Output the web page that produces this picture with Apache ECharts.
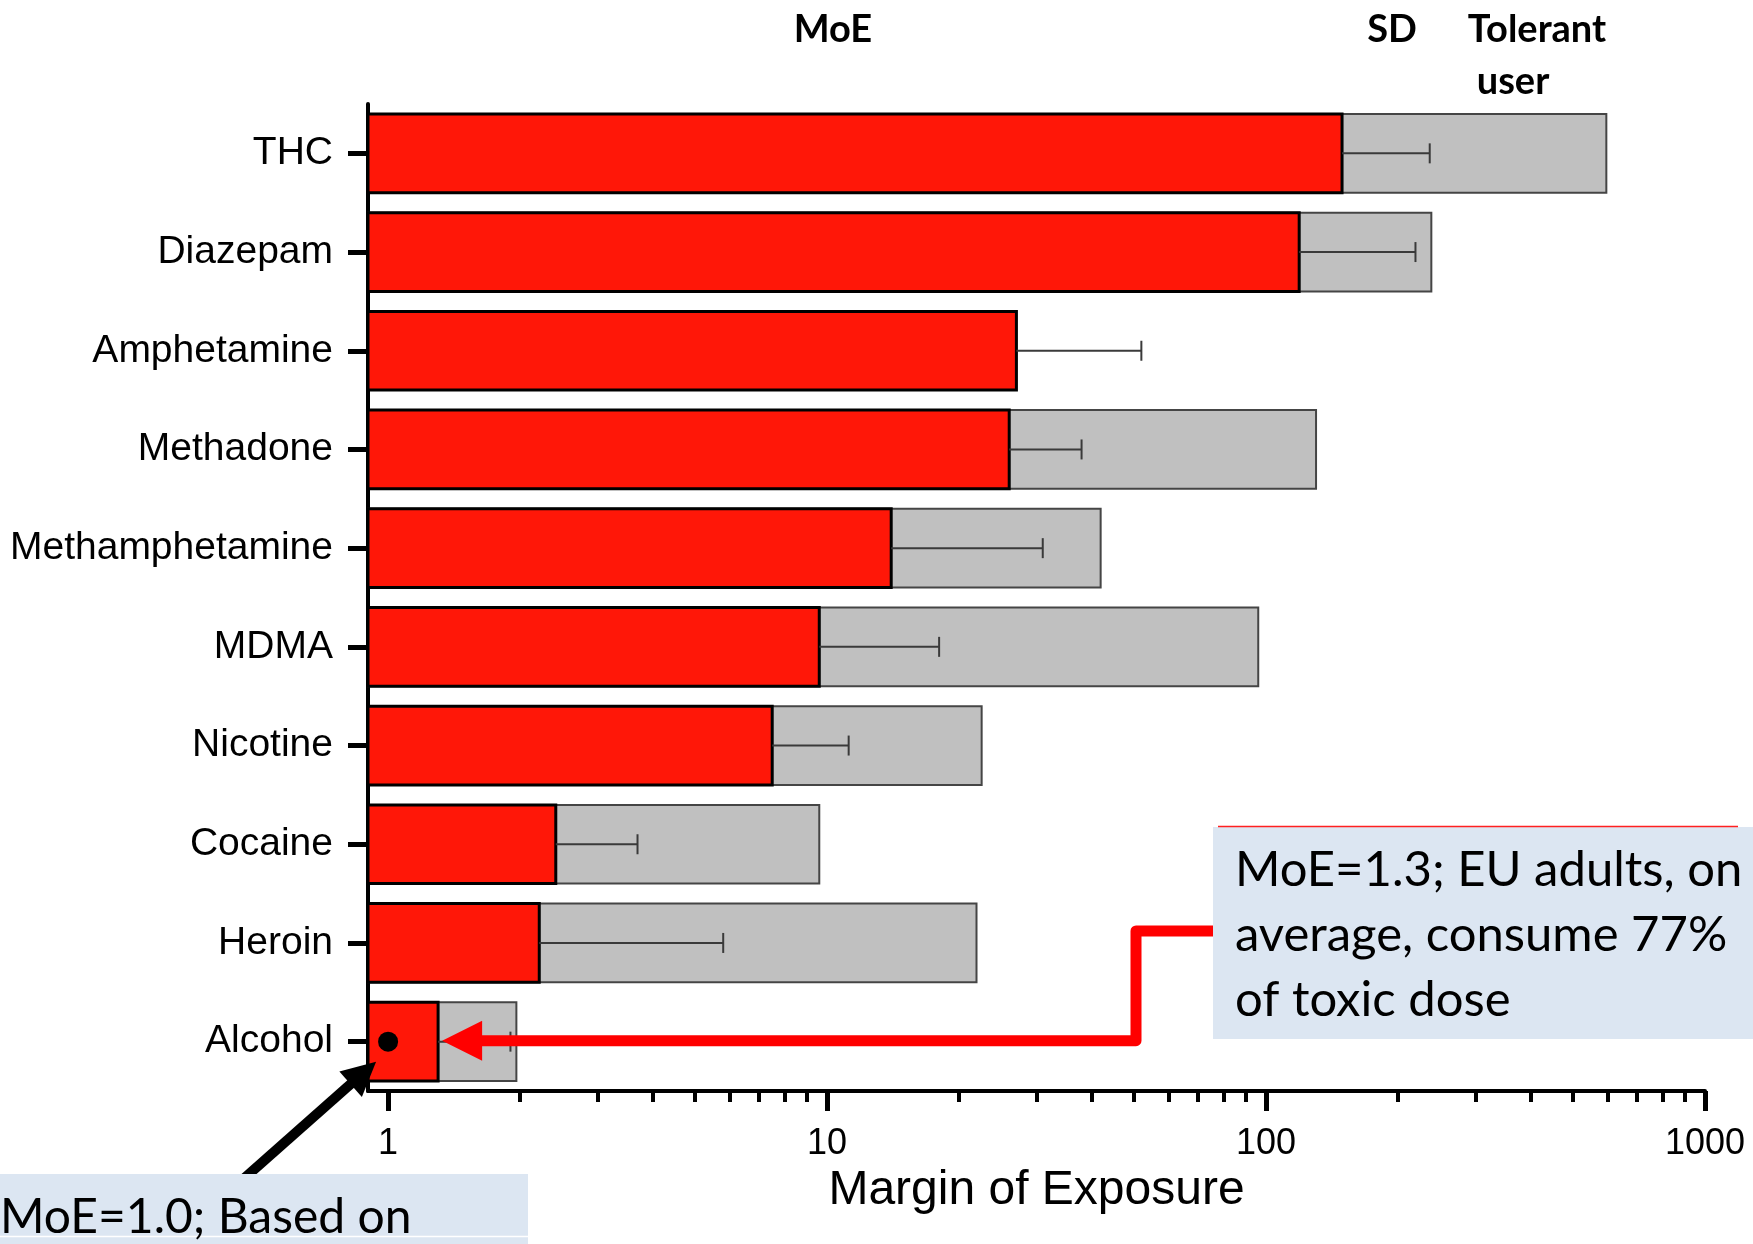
<!DOCTYPE html>
<html>
<head>
<meta charset="utf-8">
<script src="https://cdn.jsdelivr.net/npm/echarts@6/dist/echarts.min.js"></script>
<style>
  html, body { margin: 0; padding: 0; background: #ffffff; }
  #chart { width: 1753px; height: 1244px; }
</style>
</head>
<body>
<div id="chart"></div>
<script>
// Substances, top to bottom
const substances = ['THC', 'Diazepam', 'Amphetamine', 'Methadone', 'Methamphetamine',
                    'MDMA', 'Nicotine', 'Cocaine', 'Heroin', 'Alcohol'];
// Margin of exposure (average user)
const moe = [149, 119, 27, 26, 14, 9.6, 7.5, 2.41, 2.21, 1.3];
// Upper end of the standard deviation
const moeSD = [236, 219, 52, 38, 31, 18, 11.2, 3.7, 5.8, 1.9];
// Margin of exposure for a tolerant user (none for amphetamine)
const tolerantUser = [596, 238, null, 130, 42, 96, 22.5, 9.6, 21.9, 1.96];
// Population-based alcohol estimate
const alcoholPopulationMoE = 1.0;

// Axis ticks
const xMin = 0.9;
const xMax = 1000;
const majorTicks = [1, 10, 100, 1000];
const minorTicks = [2, 3, 4, 5, 6, 7, 8, 9,
                    20, 30, 40, 50, 60, 70, 80, 90,
                    200, 300, 400, 500, 600, 700, 800, 900];

const BAR_RATIO = 0.797;

function barRenderer(fill, stroke, lineWidth) {
  return function (params, api) {
    const v = api.value(0);
    if (v == null || isNaN(v)) return null;
    const idx = api.value(1);
    const end = api.coord([v, idx]);
    const start = api.coord([xMin, idx]);
    const band = params.coordSys.height / substances.length;
    const h = band * BAR_RATIO;
    return {
      type: 'rect',
      shape: { x: start[0], y: end[1] - h / 2, width: end[0] - start[0], height: h },
      style: { fill: fill, stroke: stroke, lineWidth: lineWidth }
    };
  };
}

function errorRenderer(params, api) {
  const idx = api.value(1);
  const from = api.coord([api.value(0), idx]);
  const to = api.coord([api.value(2), idx]);
  const cap = 10;
  const style = { stroke: '#3a3a3a', lineWidth: 2, fill: null };
  return {
    type: 'group',
    children: [
      { type: 'line', shape: { x1: from[0], y1: from[1], x2: to[0], y2: to[1] }, style: style },
      { type: 'line', shape: { x1: to[0], y1: to[1] - cap, x2: to[0], y2: to[1] + cap }, style: style }
    ]
  };
}

const labelFont = '"Liberation Sans", Arial, sans-serif';
const noteFont = 'Lato, "Noto Sans", sans-serif';

const option = {
  animation: false,
  backgroundColor: '#ffffff',
  grid: {
    left: 368, top: 104, width: 1337, height: 987,
    containLabel: false, outerBoundsMode: 'none'
  },
  xAxis: [
    {
      type: 'log', logBase: 10, min: xMin, max: xMax,
      position: 'bottom',
      axisLine: { show: true, lineStyle: { color: '#000', width: 4 } },
      axisTick: { show: true, customValues: majorTicks, length: 20, lineStyle: { color: '#000', width: 5 } },
      axisLabel: {
        customValues: majorTicks, margin: 35, color: '#000',
        fontSize: 36, fontFamily: labelFont,
        formatter: function (v) { return String(Math.round(v)); }
      },
      splitLine: { show: false },
      minorTick: { show: false },
      name: 'Margin of Exposure',
      nameLocation: 'middle',
      nameGap: 76,
      nameTextStyle: { color: '#000', fontSize: 48, fontFamily: labelFont }
    },
    {
      type: 'log', logBase: 10, min: xMin, max: xMax,
      position: 'bottom',
      axisLine: { show: false },
      axisTick: { show: true, customValues: minorTicks, length: 11, lineStyle: { color: '#000', width: 4 } },
      axisLabel: { show: false },
      splitLine: { show: false }
    }
  ],
  yAxis: {
    type: 'category',
    data: substances,
    inverse: true,
    axisLine: { show: true, lineStyle: { color: '#000', width: 4 } },
    axisTick: { show: true, alignWithLabel: true, length: 20, lineStyle: { color: '#000', width: 5 } },
    axisLabel: { margin: 35, color: '#000', fontSize: 39, fontFamily: labelFont },
    splitLine: { show: false }
  },
  series: [
    {
      name: 'Tolerant user',
      type: 'custom',
      xAxisIndex: 0,
      renderItem: barRenderer('#c0c0c0', '#454545', 2),
      encode: { x: 0, y: 1 },
      data: substances.map((s, i) => [tolerantUser[i] == null ? NaN : tolerantUser[i], s]),
      z: 1
    },
    {
      name: 'MoE',
      type: 'custom',
      xAxisIndex: 0,
      renderItem: barRenderer('#ff1708', '#000000', 3),
      encode: { x: 0, y: 1 },
      data: substances.map((s, i) => [moe[i], s]),
      z: 2
    },
    {
      name: 'SD',
      type: 'custom',
      xAxisIndex: 0,
      renderItem: errorRenderer,
      encode: { x: [0, 2], y: 1 },
      data: substances.map((s, i) => [moe[i], s, moeSD[i]]),
      z: 3
    },
    {
      name: 'Population estimate',
      type: 'scatter',
      xAxisIndex: 0,
      symbol: 'circle',
      symbolSize: 20,
      itemStyle: { color: '#000', opacity: 1 },
      data: [[alcoholPopulationMoE, 'Alcohol']],
      z: 4
    }
  ]
};

const chart = echarts.init(document.getElementById('chart'), null, { renderer: 'canvas' });
chart.setOption(option);

// Annotations anchored on the alcohol row
const last = substances.length - 1;
const barEnd = chart.convertToPixel({ xAxisIndex: 0, yAxisIndex: 0 }, [moe[last], substances[last]]);
const dotPos = chart.convertToPixel({ xAxisIndex: 0, yAxisIndex: 0 }, [alcoholPopulationMoE, substances[last]]);

// red elbow arrow from the right-hand note to the end of the alcohol bar
const rTipX = barEnd[0] + 4, rTipY = barEnd[1] - 1;
const rHeadLen = 40, rHeadHalf = 20;
const elbowX = 1136, noteJoinY = 931, noteLeft = 1214;

// black arrow from the lower-left note to the dot
const bTip = [dotPos[0] - 12, dotPos[1] + 20];
const bTail = [240, 1182];
const dx = bTip[0] - bTail[0], dy = bTip[1] - bTail[1];
const len = Math.sqrt(dx * dx + dy * dy);
const ux = dx / len, uy = dy / len;
const bHeadLen = 34, bHeadHalf = 17;
const bBase = [bTip[0] - ux * bHeadLen, bTip[1] - uy * bHeadLen];

const headerFont = 'bold 38px ' + noteFont;

chart.setOption({
  graphic: [
    // column headers
    { type: 'text', x: 833, y: 30, z: 20, style: { text: 'MoE', font: headerFont, fill: '#000', align: 'center', verticalAlign: 'middle' } },
    { type: 'text', x: 1392, y: 30, z: 20, style: { text: 'SD', font: headerFont, fill: '#000', align: 'center', verticalAlign: 'middle' } },
    { type: 'text', x: 1537, y: 30, z: 20, style: { text: 'Tolerant', font: headerFont, fill: '#000', align: 'center', verticalAlign: 'middle' } },
    { type: 'text', x: 1513, y: 82, z: 20, style: { text: 'user', font: headerFont, fill: '#000', align: 'center', verticalAlign: 'middle' } },

    // red connector
    {
      type: 'polyline', z: 30,
      shape: { points: [[noteLeft, noteJoinY], [elbowX, noteJoinY], [elbowX, rTipY], [rTipX + rHeadLen - 2, rTipY]] },
      style: { stroke: '#ff0000', lineWidth: 11, lineJoin: 'round', fill: null }
    },
    {
      type: 'polygon', z: 30,
      shape: { points: [[rTipX, rTipY], [rTipX + rHeadLen, rTipY - rHeadHalf], [rTipX + rHeadLen, rTipY + rHeadHalf]] },
      style: { fill: '#ff0000' }
    },

    // right-hand note
    { type: 'rect', z: 31, shape: { x: 1213, y: 827, width: 540, height: 212 }, style: { fill: '#dce6f2' } },
    { type: 'line', z: 32, shape: { x1: 1218, y1: 826.5, x2: 1738, y2: 826.5 }, style: { stroke: '#ff2020', lineWidth: 1.5 } },
    {
      type: 'text', z: 33, x: 1235, y: 935,
      style: {
        text: 'MoE=1.3; EU adults, on\naverage, consume 77%\nof toxic dose',
        font: '49px ' + noteFont, lineHeight: 65, fill: '#000', align: 'left', verticalAlign: 'middle'
      }
    },

    // black arrow
    {
      type: 'line', z: 30,
      shape: { x1: bTail[0], y1: bTail[1], x2: bBase[0] + ux * 2, y2: bBase[1] + uy * 2 },
      style: { stroke: '#000', lineWidth: 10 }
    },
    {
      type: 'polygon', z: 30,
      shape: { points: [bTip, [bBase[0] - uy * bHeadHalf, bBase[1] + ux * bHeadHalf], [bBase[0] + uy * bHeadHalf, bBase[1] - ux * bHeadHalf]] },
      style: { fill: '#000' }
    },

    // lower-left note
    { type: 'rect', z: 31, shape: { x: 0, y: 1174, width: 528, height: 70 }, style: { fill: '#dce6f2' } },
    { type: 'line', z: 32, shape: { x1: 0, y1: 1236.5, x2: 528, y2: 1236.5 }, style: { stroke: '#ffffff', lineWidth: 1.5 } },
    {
      type: 'text', z: 33, x: 0, y: 1218,
      style: { text: 'MoE=1.0; Based on', font: '48px ' + noteFont, fill: '#000', align: 'left', verticalAlign: 'middle' }
    }
  ]
});
</script>
</body>
</html>
